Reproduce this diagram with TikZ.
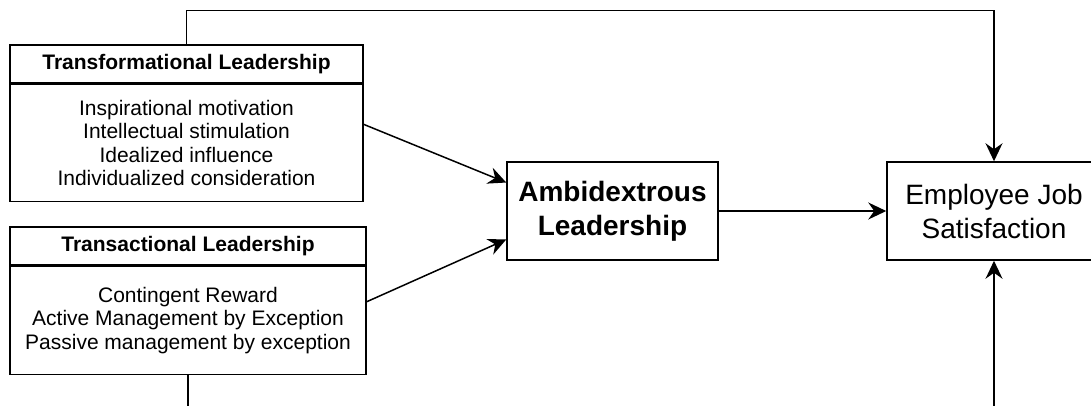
\documentclass[tikz,border=0pt]{standalone}
\usepackage{fontspec}
\setmainfont{Liberation Sans}
\usetikzlibrary{arrows.meta,positioning}

\tikzset{
  box/.style={draw, line width=1.5pt, inner sep=0pt, align=center},
  hdbox/.style={box, minimum height=38pt, font=\bfseries\fontsize{21}{24}\selectfont},
  lstbox/.style={box, font=\fontsize{21}{23.5}\selectfont},
  bigbox/.style={box, minimum width=211pt, minimum height=98pt},
  link/.style={line width=1.5pt, -{Stealth[length=18pt,width=17pt,inset=6pt]}}
}

\begin{document}
\begin{tikzpicture}[x=1pt,y=-1pt]
\useasboundingbox (0,0) rectangle (1091,405);
\path
(186.5,64) node[hdbox, minimum width=353pt] (tfh) {Transformational Leadership}
(188,246) node[hdbox, minimum width=356pt] (tsh) {Transactional Leadership}
(612.5,211) node[bigbox, font=\bfseries\fontsize{28}{34}\selectfont] (amb) {Ambidextrous\\Leadership}
(994,211) node[bigbox, minimum width=214pt, font=\fontsize{28}{34}\selectfont] (ejs) {Employee Job\\Satisfaction};
\node[lstbox, minimum width=353pt, minimum height=117pt, below=0pt of tfh] (tfb)
  {Inspirational motivation\\Intellectual stimulation\\Idealized influence\\Individualized consideration};
\node[lstbox, minimum width=356pt, minimum height=108pt, below=0pt of tsh] (tsb)
  {Contingent Reward\\Active Management by Exception\\Passive management by exception};
%\draw[->] (tfb) -- (amb);
\draw[link] (tfb.6) -- (amb.165);
\draw[link] (tsb.6) -- (amb.195);
\draw[link] (amb) -- (ejs);
\draw[link] (tfh.north) -- ++(0,-34) -| (ejs.north);
\draw[link] (tsb.south) -- ++(0,60) -| (ejs.south);
\end{tikzpicture}
\end{document}
